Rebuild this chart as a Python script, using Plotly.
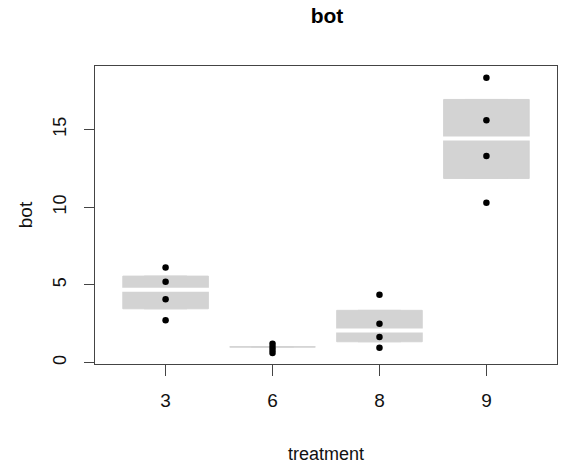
import plotly.graph_objects as go

# ---- data ----
treatments = ["3", "6", "8", "9"]
points_x = ["3", "3", "3", "3", "6", "6", "6", "6", "8", "8", "8", "8", "9", "9", "9", "9"]
points_y = [6.13, 5.21, 4.09, 2.74,
            1.22, 1.02, 0.82, 0.63,
            4.37, 2.51, 1.65, 0.96,
            18.32, 15.60, 13.30, 10.28]
box_low = [3.47, 1.02, 1.35, 11.85]
box_mid = [4.69, 1.02, 2.07, 14.42]
box_high = [5.57, 1.02, 3.37, 16.93]
y_ticks = [0, 5, 10, 15]

NARROW = "Liberation Sans Narrow, Arial Narrow, Liberation Sans, Arial, sans-serif"
SANS = "Liberation Sans, Arial, sans-serif"
FRAME = "#444444"

fig = go.Figure()

fig.add_trace(go.Box(
    x=treatments, q1=box_low, median=box_mid, q3=box_high,
    lowerfence=box_low, upperfence=box_high,
    fillcolor="lightgray", line=dict(color="lightgray", width=1),
    width=0.8, boxpoints=False, showlegend=False, hoverinfo="skip",
))

med_colors = ["white" if h - l > 0.1 else "rgba(0,0,0,0)" for l, h in zip(box_low, box_high)]
fig.add_trace(go.Scatter(
    x=treatments, y=box_mid, mode="markers",
    marker=dict(symbol="line-ew", size=84, color="white",
                line=dict(color=med_colors, width=4)),
    showlegend=False, hoverinfo="skip",
))

fig.add_trace(go.Scatter(
    x=points_x, y=points_y, mode="markers",
    marker=dict(color="black", size=6.5),
    showlegend=False,
))

fig.update_layout(
    width=567, height=470, autosize=False,
    margin=dict(l=95, r=10, t=66, b=106),
    plot_bgcolor="white", paper_bgcolor="white",
    title=dict(text="<b>bot</b>", x=327 / 567, xanchor="center",
               y=1 - 16 / 470, yanchor="middle",
               font=dict(family=NARROW, size=21, color="black")),
    xaxis=dict(
        type="category", range=[-0.66, 3.66],
        showline=True, mirror=True, linecolor=FRAME, linewidth=1,
        ticks="outside", ticklen=11, tickcolor=FRAME, tickwidth=1,
        showgrid=False, zeroline=False,
        tickfont=dict(family=NARROW, size=19, color="#111111"),
        ticklabelstandoff=8,
        title=dict(text="treatment", standoff=37,
                   font=dict(family=NARROW, size=18, color="#111111")),
    ),
    yaxis=dict(
        range=[-0.08, 19.08],
        tickvals=y_ticks, ticktext=[str(v) for v in y_ticks],
        tickangle=-90,
        showline=True, mirror=True, linecolor=FRAME, linewidth=1,
        ticks="outside", ticklen=10, tickcolor=FRAME, tickwidth=1,
        showgrid=False, zeroline=False,
        tickfont=dict(family=SANS, size=18, color="#111111"),
        ticklabelstandoff=11,
        title=dict(text="bot", standoff=12,
                   font=dict(family=SANS, size=19, color="#111111")),
    ),
)

fig.write_html("out.html")
